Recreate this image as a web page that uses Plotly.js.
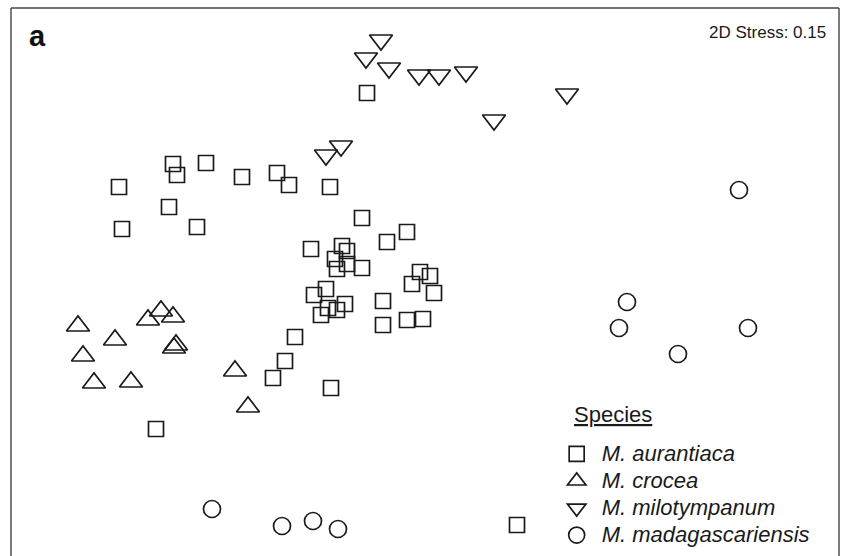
<!DOCTYPE html>
<html>
<head>
<meta charset="utf-8">
<script src="https://cdn.plot.ly/plotly-3.0.1.min.js"></script>
<style>html,body{margin:0;padding:0;background:#fff;}#chart{width:842px;height:556px;}</style>
</head>
<body>
<div id="chart"></div>
<script>
// NMDS ordination scores (arbitrary units)
const speciesNames = ["M. aurantiaca", "M. crocea", "M. milotympanum", "M. madagascariensis"];

const aurantiacaX = [367,173,177,206,242,277,289,330,119,169,122,197,362,387,407,311,342,347,335,347,337,362,326,314,345,337,328,321,420,430,412,434,383,383,407,423,295,285,273,331,156,517];
const aurantiacaY = [463,392,381,393,379,383,371,369,369,349,327,329,338,314,324,307,310,305,297,292,287,288,267,261,252,246,248,241,284,280,272,263,255,231,236,237,219,195,178,168,127,31];

const croceaX = [78,115,83,94,131,148,161,173,176,174,235,248];
const croceaY = [230,216,200,173,174,236,245,239,211,208,185,149];

const milotympanumX = [381,366,389,419,439,466,567,494,341,326];
const milotympanumY = [516,498,488,481,481,484,462,436,410,401];

const madagascariensisX = [739,627,619,748,678,212,282,313,338];
const madagascariensisY = [366,254,228,228,202,47,30,35,27];

const stressLabel = "2D Stress: 0.15";
const panelLabel = "a";
const legendTitle = "Species";

const ink = "#1a1a1a";
const FONT = "'Liberation Sans', Arial, Helvetica, sans-serif";

function mk(x, y, name, symbol, size) {
  return {
    type: "scatter", mode: "markers", x: x, y: y,
    name: '<span style="font-size:22px">' + name + '</span>',
    marker: {symbol: symbol, size: size, color: ink, line: {color: ink, width: 1.7}},
    hoverinfo: "skip"
  };
}

const data = [
  mk(aurantiacaX, aurantiacaY, speciesNames[0], "square-open", 15),
  mk(croceaX, croceaY, speciesNames[1], "triangle-up-open", 20),
  mk(milotympanumX, milotympanumY, speciesNames[2], "triangle-down-open", 20),
  mk(madagascariensisX, madagascariensisY, speciesNames[3], "circle-open", 17)
];

const layout = {
  width: 842, height: 556,
  margin: {l: 11, r: 3, t: 8, b: 0, pad: 0},
  paper_bgcolor: "#fff", plot_bgcolor: "#fff",
  showlegend: true,
  font: {family: FONT, color: ink},
  xaxis: {range: [11, 839], visible: false, fixedrange: true},
  yaxis: {range: [0, 548], visible: false, fixedrange: true},
  legend: {
    x: 0.653, y: 0.22, xanchor: "left", yanchor: "top",
    bgcolor: "rgba(0,0,0,0)", borderwidth: 0,
    itemwidth: 40,
    font: {family: FONT, size: 18.5, style: "italic", color: ink},
    traceorder: "normal"
  },
  shapes: [
    {type: "line", xref: "paper", yref: "paper", x0: 0, x1: 0, y0: 0, y1: 1, line: {color: "#444", width: 1.4}},
    {type: "line", xref: "paper", yref: "paper", x0: 0, x1: 1, y0: 1, y1: 1, line: {color: "#444", width: 1.4}},
    {type: "line", xref: "paper", yref: "paper", x0: 1, x1: 1, y0: 0, y1: 1, line: {color: "#444", width: 1.4}}
  ],
  annotations: [
    {text: "<b>" + panelLabel + "</b>", xref: "paper", yref: "paper", x: 0.0326, y: 0.949,
     xanchor: "center", yanchor: "middle", showarrow: false, font: {family: FONT, size: 29, color: "#111"}},
    {text: stressLabel, xref: "paper", yref: "paper", x: 0.9867, y: 0.9562,
     xanchor: "right", yanchor: "middle", showarrow: false, font: {family: FONT, size: 17, color: ink}},
    {text: "<u>" + legendTitle + "</u>", xref: "paper", yref: "paper", x: 0.6775, y: 0.2573,
     xanchor: "left", yanchor: "middle", showarrow: false, font: {family: FONT, size: 22, color: ink}}
  ]
};

Plotly.newPlot("chart", data, layout, {displayModeBar: false, staticPlot: true});
</script>
</body>
</html>
